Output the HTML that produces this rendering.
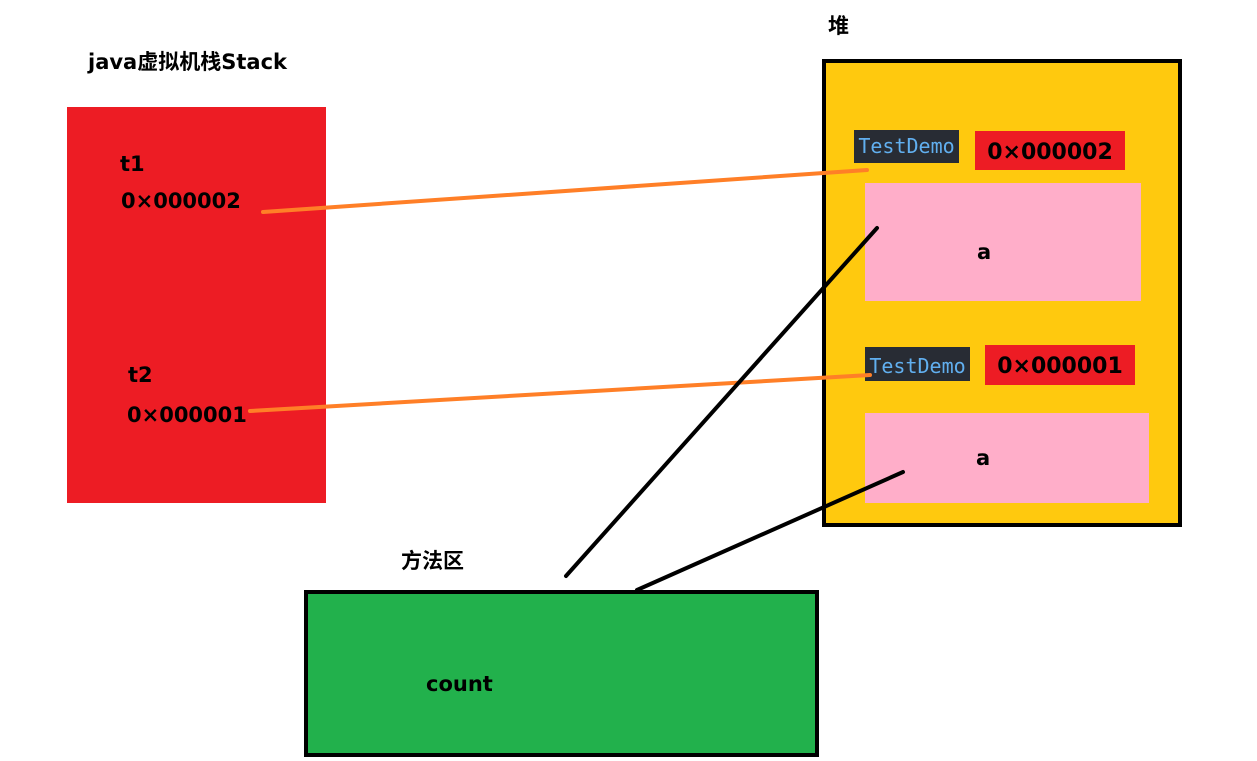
<!DOCTYPE html>
<html><head><meta charset="utf-8"><style>
body{margin:0;width:1257px;height:761px;background:#fff;position:relative;overflow:hidden;font-family:"DejaVu Sans","Noto Sans CJK SC",sans-serif;font-weight:bold}
div{position:absolute;box-sizing:border-box}
.t{font-size:21px;color:#000;white-space:nowrap}
.td{background:#282c34;color:#61afef;font-family:"DejaVu Sans Mono","Liberation Mono",monospace;font-weight:normal;font-size:20px;text-align:center}
</style></head><body>
<div class="t" style="left:88px;top:46px;font-size:21px">java虚拟机栈Stack</div>
<div style="left:67px;top:107px;width:259px;height:396px;background:#ed1c24"></div>
<div class="t" style="left:120px;top:152px">t1</div>
<div class="t" style="left:121px;top:189px">0×000002</div>
<div class="t" style="left:128px;top:363px">t2</div>
<div class="t" style="left:127px;top:403px">0×000001</div>
<div class="t" style="left:828px;top:10px">堆</div>
<div style="left:822px;top:59px;width:360px;height:468px;background:#ffc90e;border:4px solid #000"></div>
<div class="td" style="left:854px;top:130px;width:105px;height:33px;line-height:33px">TestDemo</div>
<div class="t" style="left:975px;top:131px;width:150px;height:39px;background:#ed1c24;text-align:center;line-height:44px;font-size:22px">0×000002</div>
<div style="left:865px;top:183px;width:276px;height:118px;background:#ffaec9"></div>
<div class="t" style="left:977px;top:240px">a</div>
<div class="td" style="left:865px;top:347px;width:105px;height:34px;line-height:38px">TestDemo</div>
<div class="t" style="left:985px;top:345px;width:150px;height:40px;background:#ed1c24;text-align:center;line-height:44px;font-size:22px">0×000001</div>
<div style="left:865px;top:413px;width:284px;height:90px;background:#ffaec9"></div>
<div class="t" style="left:976px;top:446px">a</div>
<div class="t" style="left:401px;top:545px">方法区</div>
<div style="left:304px;top:590px;width:515px;height:167px;background:#22b14c;border:4px solid #000"></div>
<div class="t" style="left:426px;top:672px">count</div>
<svg width="1257" height="761" style="position:absolute;left:0;top:0">
<g stroke-linecap="round" fill="none">
<line x1="263" y1="212" x2="867" y2="170" stroke="#ff7f27" stroke-width="4"/>
<line x1="250" y1="411" x2="870" y2="375" stroke="#ff7f27" stroke-width="4"/>
<line x1="566" y1="576" x2="877" y2="228" stroke="#000" stroke-width="4"/>
<line x1="637" y1="590" x2="903" y2="472" stroke="#000" stroke-width="4"/>
</g></svg>
</body></html>
